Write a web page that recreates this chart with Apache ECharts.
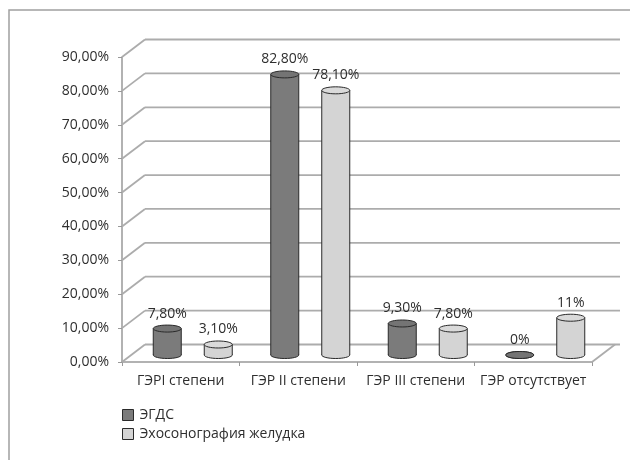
<!DOCTYPE html>
<html><head><meta charset="utf-8">
<script src="https://cdn.jsdelivr.net/npm/echarts@6/dist/echarts.min.js"></script>
<style>html,body{margin:0;padding:0;background:#fff}#c{width:630px;height:460px}</style>
</head><body><div id="c"></div>
<script>
const categories = ['ГЭРI степени', 'ГЭР II степени', 'ГЭР III степени', 'ГЭР отсутствует'];
const seriesNames = ['ЭГДС', 'Эхосонография желудка'];
const egdsValues = [7.8, 82.8, 9.3, 0];
const echoValues = [3.1, 78.1, 7.8, 11];
const egdsLabels = ['7,80%', '82,80%', '9,30%', '0%'];
const echoLabels = ['3,10%', '78,10%', '7,80%', '11%'];
const yTicks = [0, 10, 20, 30, 40, 50, 60, 70, 80, 90];

const FONT = 'Open Sans';
const TXT = '#2e2e2e';
const GRIDC = '#acacac';
const DEPTH_X = 23, DEPTH_Y = 17.5;   // back-wall offset
const MID_X = 12, MID_Y = -7;         // cylinder depth offset
const BAR_W = 28, ELL_H = 7;
const colors = ['#7b7b7b', '#d4d4d4'];
const topColors = ['#747474', '#dadada'];
const STROKE = '#2a2a2a';

function cylinder(shift, labels, idx) {
  return function (params, api) {
    const cat = api.value(0), v = api.value(1);
    const top = api.coord([cat, v]);
    const base = api.coord([cat, 0]);
    const cx = top[0] + shift + MID_X;
    const ty = top[1] + MID_Y;
    const by = base[1] + MID_Y;
    const rx = BAR_W / 2, ry = ELL_H / 2;
    const children = [
      { type: 'ellipse', shape: { cx: cx, cy: by, rx: rx, ry: ry },
        style: { fill: colors[idx], stroke: STROKE, lineWidth: 1 } },
      { type: 'rect', shape: { x: cx - rx, y: ty, width: BAR_W, height: by - ty },
        style: { fill: colors[idx] } },
      { type: 'line', shape: { x1: cx - rx, y1: ty, x2: cx - rx, y2: by },
        style: { stroke: STROKE, lineWidth: 1 } },
      { type: 'line', shape: { x1: cx + rx, y1: ty, x2: cx + rx, y2: by },
        style: { stroke: STROKE, lineWidth: 1 } },
      { type: 'ellipse', shape: { cx: cx, cy: ty, rx: rx, ry: ry },
        style: { fill: topColors[idx], stroke: STROKE, lineWidth: 1 } },
      { type: 'text', style: { x: cx, y: ty - 15, text: labels[params.dataIndex],
        align: 'center', verticalAlign: 'middle', fill: TXT, fontSize: 14, fontFamily: FONT } }
    ];
    return { type: 'group', children: children };
  };
}

function walls(params, api) {
  const cs = params.coordSys;
  const v = api.value(1);
  const y = api.coord([0, v])[1];
  const x0 = cs.x;
  const ls = { stroke: GRIDC, lineWidth: 1.8 };
  const children = [
    { type: 'line', shape: { x1: x0, y1: y, x2: x0 + DEPTH_X, y2: y - DEPTH_Y }, style: ls },
    { type: 'line', shape: { x1: x0 + DEPTH_X, y1: y - DEPTH_Y, x2: x0 + cs.width + DEPTH_X + 5, y2: y - DEPTH_Y }, style: ls }
  ];
  if (v === 0) {
    children.push({ type: 'line', shape: { x1: x0 + cs.width, y1: y, x2: x0 + cs.width + DEPTH_X, y2: y - DEPTH_Y }, style: ls });
  }
  return { type: 'group', children: children };
}

const chart = echarts.init(document.getElementById('c'), null, { renderer: 'canvas' });
chart.setOption({
  animation: false,
  backgroundColor: '#fff',
  textStyle: { fontFamily: FONT },
  graphic: [{
    type: 'polyline', shape: { points: [[9, 460], [9, 10], [630, 10]] },
    style: { stroke: '#a0a0a0', lineWidth: 1.5, fill: null }, silent: true
  }],
  grid: { left: 122, right: 38, top: 57, bottom: 98 },
  xAxis: {
    type: 'category', data: categories,
    axisLine: { lineStyle: { color: '#999', width: 1.5 } },
    axisTick: { show: true, length: 4, lineStyle: { color: '#999' } },
    axisLabel: { fontSize: 14, color: TXT, margin: 12, fontFamily: FONT, interval: 0 },
    splitLine: { show: false }
  },
  yAxis: {
    type: 'value', min: 0, max: 90, interval: 10,
    axisLine: { show: true, lineStyle: { color: '#999', width: 1.5 } },
    axisTick: { show: true, length: 4, lineStyle: { color: '#999' } },
    axisLabel: { fontSize: 14, color: TXT, margin: 13, fontFamily: FONT,
      formatter: function (v) { return v.toFixed(2).replace('.', ',') + '%'; } },
    splitLine: { show: false }
  },
  legend: {
    orient: 'vertical', left: 117, top: 403, itemWidth: 11, itemHeight: 11, itemGap: 5,
    textStyle: { fontSize: 14, color: TXT, fontFamily: FONT, padding: [0, 0, 0, 1] },
    data: [
      { name: seriesNames[0], icon: 'rect', itemStyle: { color: colors[0], borderColor: STROKE, borderWidth: 1 } },
      { name: seriesNames[1], icon: 'rect', itemStyle: { color: colors[1], borderColor: STROKE, borderWidth: 1 } }
    ]
  },
  series: [
    { type: 'custom', name: 'walls', silent: true, z: 1, renderItem: walls,
      data: yTicks.map(function (t) { return [0, t]; }) },
    { type: 'custom', name: seriesNames[0], z: 3, itemStyle: { color: colors[0] },
      renderItem: cylinder(-25.5, egdsLabels, 0),
      data: egdsValues.map(function (v, i) { return [i, v]; }) },
    { type: 'custom', name: seriesNames[1], z: 3, itemStyle: { color: colors[1] },
      renderItem: cylinder(25.5, echoLabels, 1),
      data: echoValues.map(function (v, i) { return [i, v]; }) }
  ]
});
</script></body></html>
